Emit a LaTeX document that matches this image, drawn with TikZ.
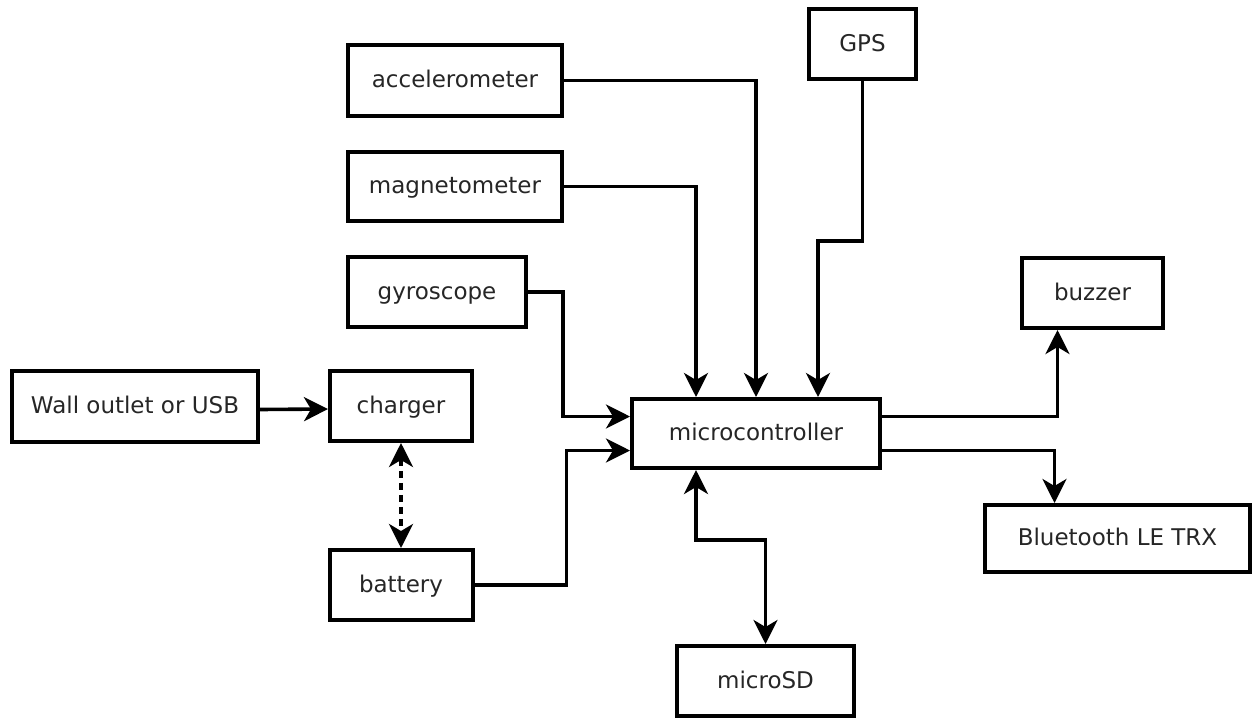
\documentclass[tikz,border=0pt]{standalone}
\usepackage{fontspec}
\setmainfont{DejaVu Sans}
\usetikzlibrary{arrows.meta}
\begin{document}
\begin{tikzpicture}[x=1pt,y=-1pt,
  block/.style={draw=black, line width=4pt, inner sep=0pt, text=black!85,
    font=\fontsize{23}{27}\selectfont, text height=14pt, text depth=0pt, fill=white},
  tip/.tip={Stealth[length=24pt,width=24pt,inset=7pt]},
  link/.style={line width=3.6pt, -tip},
  biglink/.style={line width=3.6pt, tip-tip},
]
\useasboundingbox (0,0) rectangle (1254,721);

% blocks
\node[block, minimum width=214pt, minimum height=71pt] (acc) at (455,80.5) {accelerometer};
\node[block, minimum width=214pt, minimum height=69pt] (mag) at (455,186.5) {magnetometer};
\node[block, minimum width=178pt, minimum height=70pt] (gyro) at (437,292) {gyroscope};
\node[block, minimum width=107pt, minimum height=70pt] (gps) at (862.5,44) {GPS};
\node[block, minimum width=246pt, minimum height=71pt] (wall) at (135,406.5) {Wall outlet or USB};
\node[block, minimum width=142pt, minimum height=70pt] (chg) at (401,406) {charger};
\node[block, minimum width=143pt, minimum height=70pt] (bat) at (401,585) {battery};
\node[block, minimum width=248pt, minimum height=69pt] (mcu) at (756,433.5) {microcontroller};
\node[block, minimum width=141pt, minimum height=70pt] (buz) at (1092.5,293) {buzzer};
\node[block, minimum width=265pt, minimum height=67pt] (bt) at (1117.5,538.5) {Bluetooth LE TRX};
\node[block, minimum width=177pt, minimum height=70pt] (sd) at (765.5,681) {microSD};

% sensor inputs
\draw[link] (acc.east) -| (mcu.north);
\draw[link] (mag.east) -| ([xshift=-60pt]mcu.north);
\draw[link] (gps.south) -- ++(0,160) -| ([xshift=62pt]mcu.north);
\draw[link] (gyro.east) -- ++(35,0) |- ([yshift=17pt]mcu.west);
\draw[link] (bat.east) -- ++(92,0) |- ([yshift=-17pt]mcu.west);

% power path
\draw[link] ([yshift=-3pt]wall.east) -- ([yshift=-3pt]chg.west);
\draw[biglink, dash pattern=on 7pt off 5pt] (chg.south) -- (bat.north);

% outputs
\draw[link] ([yshift=17pt]mcu.east) -| ([xshift=-35pt]buz.south);
\draw[link] ([yshift=-17pt]mcu.east) -| ([xshift=-63pt]bt.north);
\draw[biglink] ([xshift=-60pt]mcu.south) -- ++(0,70) -| (sd.north);
\end{tikzpicture}
\end{document}
